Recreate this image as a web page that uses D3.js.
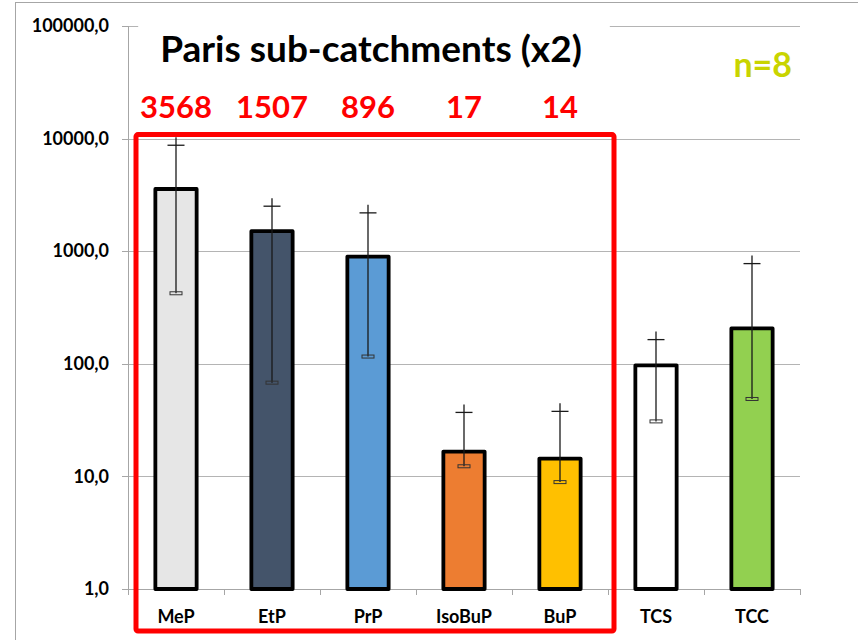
<!DOCTYPE html>
<html>
<head>
<meta charset="utf-8">
<title>Paris sub-catchments</title>
<script src="https://cdn.jsdelivr.net/npm/d3@7"></script>
<style>
	body{margin:0;background:#fff;}
	text{font-family:Lato, "DejaVu Sans", sans-serif;}
	.axis path,
	.axis line{fill:none;stroke:#a6a6a6;shape-rendering:crispEdges;}
	.axis text{font-size:18px;font-weight:bold;fill:#000;}
</style>
</head>
<body>
<script>
var categories = ["MeP", "EtP", "PrP", "IsoBuP", "BuP", "TCS", "TCC"];
var means = [3568, 1507, 896, 16.6, 14.4, 97, 206];
var upper = [8730, 2510, 2190, 37, 37.8, 164, 776];
var lower = [423, 68, 116, 12.3, 8.9, 30.8, 48.7];
var fills = ["#e6e6e6", "#44546a", "#5b9bd5", "#ed7d31", "#ffc000", "#ffffff", "#92d050"];
var redLabels = ["3568", "1507", "896", "17", "14"];
var yTicks = [1, 10, 100, 1000, 10000, 100000];

var width = 858, height = 640;
var plotL = 128, plotR = 800, plotT = 26, plotB = 589;

var svg = d3.select("body").append("svg")
	.attr("width", width)
	.attr("height", height);

// outer chart frame
svg.append("rect")
	.attr("x", 15.5).attr("y", 2.5)
	.attr("width", 900).attr("height", 700)
	.attr("fill", "none").attr("stroke", "#a6a6a6");

var x = d3.scaleBand().domain(categories).range([plotL, plotR])
	.paddingInner(0.57).paddingOuter(0.285);
var y = d3.scaleLog().domain([1, 100000]).range([plotB, plotT]);

// gridlines
svg.append("g").selectAll("line")
	.data(yTicks.slice(1))
	.enter().append("line")
	.attr("x1", plotL).attr("x2", plotR)
	.attr("y1", function (d) { return Math.round(y(d)) + 0.5; })
	.attr("y2", function (d) { return Math.round(y(d)) + 0.5; })
	.attr("stroke", "#b4b4b4");

var yAxis = d3.axisLeft(y)
	.tickValues(yTicks)
	.tickFormat(function (d) { return d3.format(".1f")(d).replace(".", ","); })
	.tickSize(6).tickPadding(13);
svg.append("g").attr("class", "axis")
	.attr("transform", "translate(" + plotL + ",0)")
	.call(yAxis)
	.call(function (g) { g.select(".domain").attr("d", "M0," + plotT + "V" + plotB); });

var xAxis = d3.axisBottom(x).tickSize(0).tickPadding(21);
svg.append("g").attr("class", "axis")
	.attr("transform", "translate(0," + plotB + ")")
	.call(xAxis)
	.call(function (g) { g.select(".domain").attr("d", "M" + plotL + ",0H" + plotR); });

// category boundary ticks
svg.append("g").selectAll("line")
	.data(d3.range(categories.length + 1))
	.enter().append("line")
	.attr("x1", function (i) { return Math.round(plotL + i * x.step()) + 0.5; })
	.attr("x2", function (i) { return Math.round(plotL + i * x.step()) + 0.5; })
	.attr("y1", plotB).attr("y2", plotB + 6)
	.attr("stroke", "#a6a6a6");

// bars
svg.append("g").selectAll("rect")
	.data(categories)
	.enter().append("rect")
	.attr("x", function (d) { return x(d); })
	.attr("y", function (d, i) { return y(means[i]); })
	.attr("width", x.bandwidth())
	.attr("height", function (d, i) { return y(1) - y(means[i]); })
	.attr("fill", function (d, i) { return fills[i]; })
	.attr("stroke", "#000")
	.attr("stroke-width", 3.8)
	.attr("stroke-linejoin", "round");

// error bars
var err = svg.append("g").selectAll("g")
	.data(categories)
	.enter().append("g")
	.attr("transform", function (d) { return "translate(" + (x(d) + x.bandwidth() / 2) + ",0)"; });
err.append("line")
	.attr("x1", 0).attr("x2", 0)
	.attr("y1", function (d, i) { return y(upper[i]) - 8; })
	.attr("y2", function (d, i) { return y(lower[i]); })
	.attr("stroke", "#1a1a1a").attr("stroke-width", 1.3);
err.append("line")
	.attr("x1", -8.5).attr("x2", 8.5)
	.attr("y1", function (d, i) { return y(upper[i]); })
	.attr("y2", function (d, i) { return y(upper[i]); })
	.attr("stroke", "#1a1a1a").attr("stroke-width", 1.3);
err.append("rect")
	.attr("x", -6).attr("width", 12)
	.attr("y", function (d, i) { return y(lower[i]) - 1.5; })
	.attr("height", 3)
	.attr("fill", "none")
	.attr("stroke", "#333").attr("stroke-width", 1);

// title with white box over the top gridline
var title = svg.append("text")
	.attr("x", 371).attr("y", 62)
	.attr("text-anchor", "middle")
	.attr("font-size", 37).attr("font-weight", "bold")
	.text("Paris sub-catchments (x2)");
var bb = title.node().getBBox();
svg.insert("rect", function () { return title.node(); })
	.attr("x", bb.x - 22).attr("y", plotT - 4)
	.attr("width", bb.width + 50).attr("height", 10)
	.attr("fill", "#fff");

svg.append("text")
	.attr("x", 792).attr("y", 77)
	.attr("text-anchor", "end")
	.attr("font-size", 34).attr("font-weight", "bold")
	.attr("fill", "#c9d400")
	.text("n=8");

// red annotation
svg.append("g").selectAll("text")
	.data(redLabels)
	.enter().append("text")
	.attr("x", function (d, i) { return x(categories[i]) + x.bandwidth() / 2; })
	.attr("y", y(10000) - 21)
	.attr("text-anchor", "middle")
	.attr("font-size", 31).attr("font-weight", "bold")
	.attr("fill", "#ff0000")
	.text(function (d) { return d; });

svg.append("rect")
	.attr("x", plotL + 8)
	.attr("y", y(10000) - 4)
	.attr("width", 5 * x.step() - 2)
	.attr("height", plotB + 42 - (y(10000) - 4))
	.attr("rx", 2)
	.attr("fill", "none")
	.attr("stroke", "#ff0000")
	.attr("stroke-width", 5);
</script>
</body>
</html>
